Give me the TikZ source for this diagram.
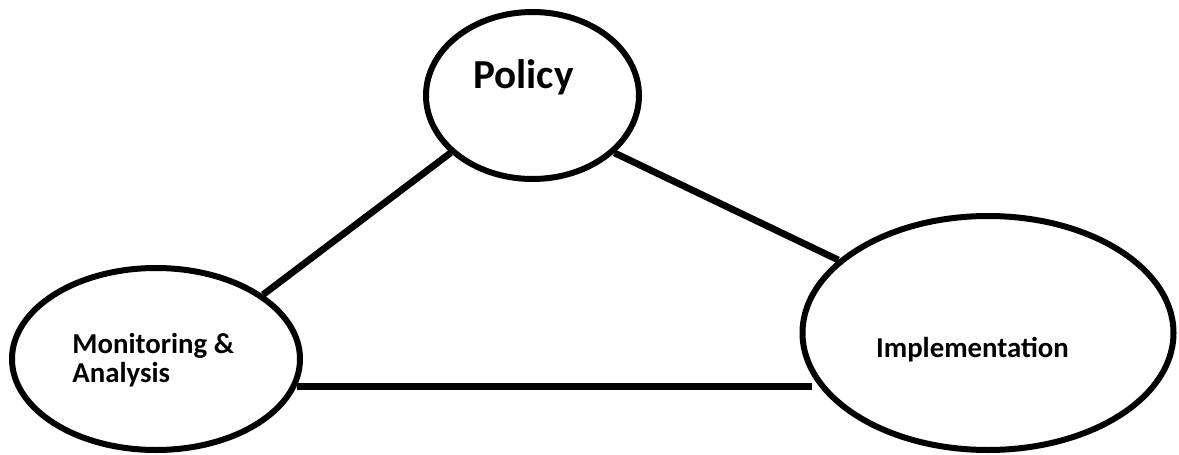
\documentclass[tikz,border=0pt]{standalone}
\usepackage{fontspec}
\setmainfont{Carlito}
\usetikzlibrary{shapes.geometric}

\begin{document}
\begin{tikzpicture}[x=0.5pt,y=-0.5pt,
    bubble/.style={draw,ellipse,line width=3pt,inner sep=0pt},
    link/.style={line width=3.4pt},
    txt/.style={inner sep=0pt,font=\fontsize{14.4}{14.5}\selectfont\bfseries}]
  \useasboundingbox (0,0) rectangle (1179,455);
  \node[bubble,minimum width=106.5pt,minimum height=83.5pt] (policy) at (532.5,95.5) {};
  \node[bubble,minimum width=144pt,minimum height=91pt] (monitor) at (156,359) {};
  \node[bubble,minimum width=185.5pt,minimum height=117pt] (impl) at (988,333) {};
  \node[txt,anchor=base,font=\fontsize{20.6}{24}\selectfont\bfseries] (policytxt) at (523.5,88) {Policy};
  \node[txt,anchor=base west,align=left] (monitortxt) at (72,382) {Monitoring \&\\Analysis};
  \node[txt,anchor=base] (impltxt) at (972.5,357) {Implementation};
  \draw[link] (monitor.31) -- (policy.215);
  \draw[link] (policy.325) -- (impl.154);
  \draw[link] (monitor.349) -- (monitor.349 -| impl.194);
\end{tikzpicture}
\end{document}
